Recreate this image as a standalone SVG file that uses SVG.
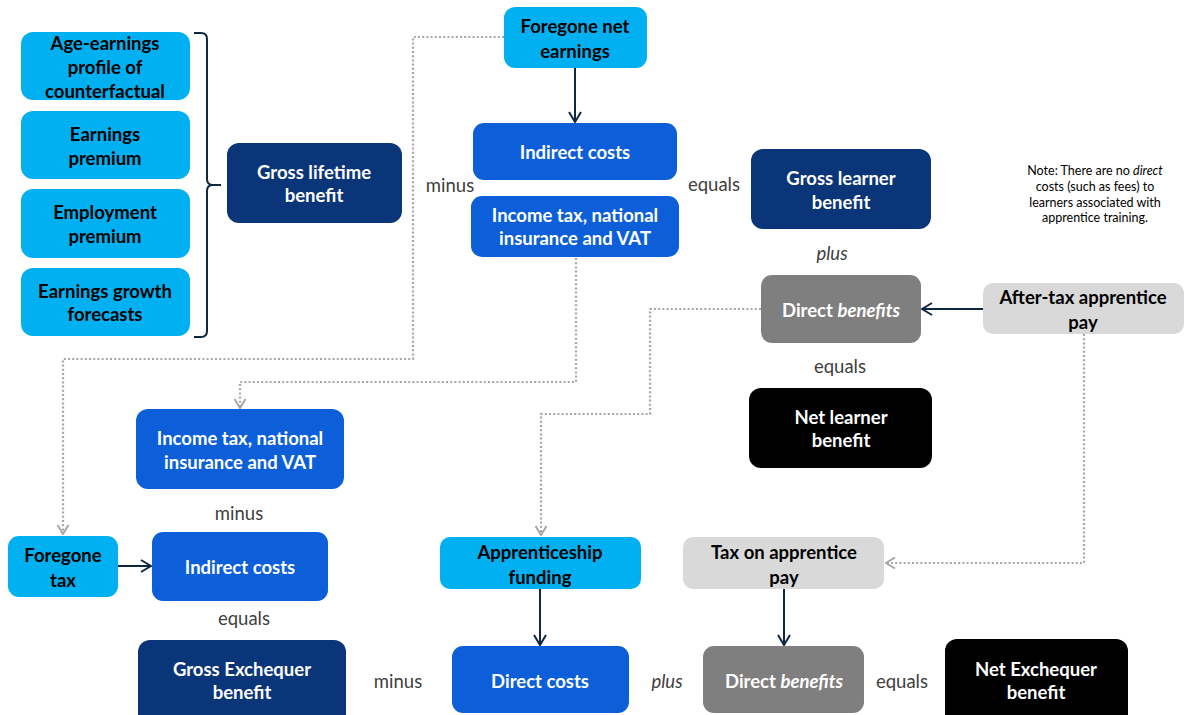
<svg xmlns="http://www.w3.org/2000/svg" width="1192" height="715" viewBox="0 0 1192 715">
<defs>
<style>
.lb{fill:#00B0F0}
.mb{fill:#0C5FD8}
.nv{fill:#0A3578}
.gr{fill:#7F7F7F}
.lg{fill:#D9D9D9}
.bk{fill:#000000}
text{font-family:Lato,"Liberation Sans",Arial,sans-serif;text-anchor:middle;dominant-baseline:central}
.t{font-size:18.5px;font-weight:bold}
.w{fill:#FFFFFF}
.k{fill:#000000}
.op{font-size:18.5px;fill:#404040}
.note{font-size:12.5px;fill:#000000}
.solid{fill:none;stroke:#0E2841;stroke-width:2}
.dot{fill:none;stroke:#A6A6A6;stroke-width:2.2;stroke-dasharray:2 2.2}
</style>
<marker id="ah" viewBox="0 0 12 14" refX="11" refY="7" markerWidth="12" markerHeight="14" markerUnits="userSpaceOnUse" orient="auto">
<path d="M1,1 L11,7 L1,13" fill="none" stroke="#0E2841" stroke-width="2"/>
</marker>
<marker id="ag" viewBox="0 0 11 13" refX="10" refY="6.5" markerWidth="11" markerHeight="13" markerUnits="userSpaceOnUse" orient="auto">
<path d="M1,1 L10,6.5 L1,12" fill="none" stroke="#A6A6A6" stroke-width="2"/>
</marker>
</defs>
<rect width="1192" height="715" fill="#FFFFFF"/>

<g id="connectors">
<path class="solid" d="M575,68 V122" marker-end="url(#ah)"/>
<path class="solid" d="M983,309 H922" marker-end="url(#ah)"/>
<path class="solid" d="M118,566 H151" marker-end="url(#ah)"/>
<path class="solid" d="M540,589 V645" marker-end="url(#ah)"/>
<path class="solid" d="M784,589 V645" marker-end="url(#ah)"/>
<path class="dot" d="M504,37 H413 V359 H63 V534" marker-end="url(#ag)"/>
<path class="dot" d="M576,258 V382 H240 V408" marker-end="url(#ag)"/>
<path class="dot" d="M761,309 H650 V414 H541 V535" marker-end="url(#ag)"/>
<path class="dot" d="M1084,334 V563 H886" marker-end="url(#ag)"/>
<path d="M194,33 H201 Q207,33 207,39 V179 Q207,185 213,185 H221 M213,185 Q207,185 207,191 V331 Q207,337 201,337 H194" fill="none" stroke="#0E2841" stroke-width="2"/>
</g>

<g id="age-earnings"><rect class="lb" x="21" y="32" width="169" height="68" rx="12"/><text class="t k" x="105" y="43">Age-earnings</text><text class="t k" x="105" y="67">profile of</text><text class="t k" x="105" y="91">counterfactual</text></g>
<g id="earnings-premium"><rect class="lb" x="21" y="111" width="169" height="68" rx="12"/><text class="t k" x="105" y="134">Earnings</text><text class="t k" x="105" y="158">premium</text></g>
<g id="employment-premium"><rect class="lb" x="21" y="189" width="169" height="69" rx="12"/><text class="t k" x="105" y="212">Employment</text><text class="t k" x="105" y="236">premium</text></g>
<g id="earnings-growth"><rect class="lb" x="21" y="268" width="169" height="68" rx="12"/><text class="t k" x="105" y="291">Earnings growth</text><text class="t k" x="105" y="314">forecasts</text></g>
<g id="gross-lifetime"><rect class="nv" x="227" y="143" width="175" height="80" rx="12"/><text class="t w" x="314" y="172">Gross lifetime</text><text class="t w" x="314" y="195">benefit</text></g>

<g id="foregone-net"><rect class="lb" x="504" y="7" width="143" height="61" rx="11"/><text class="t k" x="575" y="26">Foregone net</text><text class="t k" x="575" y="51">earnings</text></g>
<g id="indirect-top"><rect class="mb" x="473" y="123" width="204" height="57" rx="11"/><text class="t w" x="575" y="152">Indirect costs</text></g>
<g id="income-tax-top"><rect class="mb" x="471" y="196" width="208" height="61" rx="11"/><text class="t w" x="575" y="215">Income tax, national</text><text class="t w" x="575" y="238">insurance and VAT</text></g>
<text class="op" x="450" y="185">minus</text>
<text class="op" x="714" y="184">equals</text>

<g id="gross-learner"><rect class="nv" x="751" y="149" width="180" height="80" rx="12"/><text class="t w" x="841" y="178">Gross learner</text><text class="t w" x="841" y="202">benefit</text></g>
<text class="note" x="1095" y="170">Note: There are no <tspan font-style="italic">direct</tspan></text>
<text class="note" x="1095" y="186">costs (such as fees) to</text>
<text class="note" x="1095" y="202">learners associated with</text>
<text class="note" x="1095" y="217">apprentice training.</text>
<text class="op" x="832" y="253" font-style="italic">plus</text>
<g id="direct-benefits-top"><rect class="gr" x="761" y="275" width="160" height="68" rx="11"/><text class="t w" x="841" y="310">Direct <tspan font-style="italic">benefits</tspan></text></g>
<g id="after-tax-pay"><rect class="lg" x="983" y="283" width="201" height="51" rx="10"/><text class="t k" x="1083" y="297">After-tax apprentice</text><text class="t k" x="1083" y="322">pay</text></g>
<text class="op" x="840" y="366">equals</text>
<g id="net-learner"><rect class="bk" x="749" y="388" width="183" height="80" rx="12"/><text class="t w" x="841" y="417">Net learner</text><text class="t w" x="841" y="440">benefit</text></g>

<g id="income-tax-bottom"><rect class="mb" x="136" y="409" width="208" height="80" rx="12"/><text class="t w" x="240" y="438">Income tax, national</text><text class="t w" x="240" y="462">insurance and VAT</text></g>
<text class="op" x="239" y="513">minus</text>
<g id="foregone-tax"><rect class="lb" x="8" y="536" width="110" height="61" rx="11"/><text class="t k" x="63" y="555">Foregone</text><text class="t k" x="63" y="580">tax</text></g>
<g id="indirect-bottom"><rect class="mb" x="152" y="532" width="176" height="69" rx="11"/><text class="t w" x="240" y="567">Indirect costs</text></g>
<text class="op" x="244" y="618">equals</text>
<g id="gross-exchequer"><rect class="nv" x="138" y="640" width="208" height="86" rx="12"/><text class="t w" x="242" y="669">Gross Exchequer</text><text class="t w" x="242" y="692">benefit</text></g>
<text class="op" x="398" y="681">minus</text>

<g id="apprenticeship-funding"><rect class="lb" x="440" y="537" width="201" height="52" rx="10"/><text class="t k" x="540" y="552">Apprenticeship</text><text class="t k" x="540" y="577">funding</text></g>
<g id="direct-costs"><rect class="mb" x="452" y="646" width="177" height="67" rx="11"/><text class="t w" x="540" y="681">Direct costs</text></g>
<text class="op" x="667" y="681" font-style="italic">plus</text>
<g id="tax-on-pay"><rect class="lg" x="683" y="537" width="201" height="52" rx="10"/><text class="t k" x="784" y="552">Tax on apprentice</text><text class="t k" x="784" y="577">pay</text></g>
<g id="direct-benefits-bottom"><rect class="gr" x="703" y="646" width="161" height="67" rx="11"/><text class="t w" x="784" y="681">Direct <tspan font-style="italic">benefits</tspan></text></g>
<text class="op" x="902" y="681">equals</text>
<g id="net-exchequer"><rect class="bk" x="945" y="639" width="183" height="87" rx="12"/><text class="t w" x="1036" y="669">Net Exchequer</text><text class="t w" x="1036" y="692">benefit</text></g>
</svg>
